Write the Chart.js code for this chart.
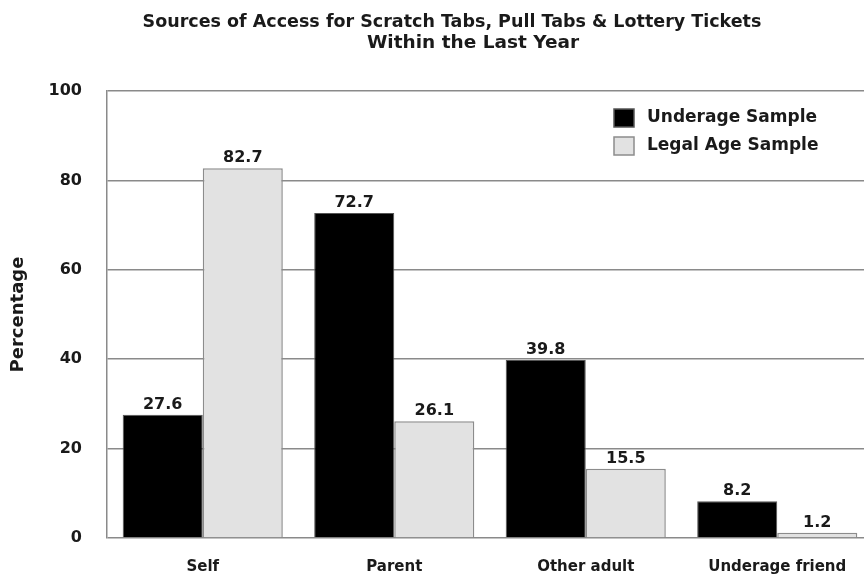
<!DOCTYPE html>
<html>
<head>
<meta charset="utf-8">
<script src="https://cdn.jsdelivr.net/npm/chart.js@4.4.1/dist/chart.umd.min.js"></script>
<style>
  html, body { margin: 0; padding: 0; background: #fff; overflow: hidden; }
  #wrap { width: 880px; height: 577px; }
</style>
</head>
<body>
<div id="wrap"><canvas id="accessChart" width="880" height="577"></canvas></div>
<script>
const titleLines = ['Sources of Access for Scratch Tabs, Pull Tabs & Lottery Tickets', 'Within the Last Year'];
const categories = ['Self', 'Parent', 'Other adult', 'Underage friend'];
const seriesNames = ['Underage Sample', 'Legal Age Sample'];
const underage = [27.6, 72.7, 39.8, 8.2];
const legalAge = [82.7, 26.1, 15.5, 1.2];
const yTicks = [0, 20, 40, 60, 80, 100];

const FONT = "'DejaVu Sans', sans-serif";
const ctx = document.getElementById('accessChart').getContext('2d');

// title, legend and value labels drawn by hand
const extras = {
  id: 'extras',
  afterDraw(chart) {
    const c = chart.ctx;
    const area = chart.chartArea;
    c.save();
    c.fillStyle = '#1a1a1a';
    c.textAlign = 'center';
    c.textBaseline = 'middle';
    c.font = `bold 17.5px ${FONT}`;
    c.fillText(titleLines[0], 452, 22);
    c.font = `bold 18.5px ${FONT}`;
    c.fillText(titleLines[1], 473, 43);

    // value labels
    c.font = `bold 16px ${FONT}`;
    c.textBaseline = 'alphabetic';
    chart.data.datasets.forEach((ds, i) => {
      chart.getDatasetMeta(i).data.forEach((bar, j) => {
        c.fillText(ds.data[j].toFixed(1), bar.x, bar.y - 6);
      });
    });

    // legend
    const lx = area.left + 507;
    const ly = area.top + 27;
    c.font = `bold 17px ${FONT}`;
    c.textAlign = 'left';
    c.textBaseline = 'middle';
    chart.data.datasets.forEach((ds, i) => {
      const y = ly + i * 28;
      c.fillStyle = ds.backgroundColor;
      c.fillRect(lx, y - 9, 20, 18);
      c.strokeStyle = ds.borderColor;
      c.lineWidth = 1.5;
      c.strokeRect(lx, y - 9, 20, 18);
      c.fillStyle = '#1a1a1a';
      c.fillText(ds.label, lx + 33, y);
    });
    c.restore();
  }
};

new Chart(ctx, {
  type: 'bar',
  data: {
    labels: categories,
    datasets: [
      {
        label: seriesNames[0],
        data: underage,
        backgroundColor: '#000000',
        borderColor: '#555555',
        borderWidth: 1
      },
      {
        label: seriesNames[1],
        data: legalAge,
        backgroundColor: '#e2e2e2',
        borderColor: '#8c8c8c',
        borderWidth: 1.5
      }
    ]
  },
  options: {
    responsive: false,
    animation: false,
    devicePixelRatio: 1,
    layout: { padding: { top: 91, right: 7, left: 0, bottom: 0 } },
    datasets: { bar: { categoryPercentage: 0.836, barPercentage: 1 } },
    plugins: {
      legend: { display: false },
      title: { display: false },
      tooltip: { enabled: false }
    },
    scales: {
      x: {
        grid: { display: false },
        border: { display: false },
        ticks: { color: '#1a1a1a', font: { family: FONT, size: 15, weight: 'bold' }, padding: 12, maxRotation: 0 },
        afterFit(scale) { scale.height = 39; }
      },
      y: {
        min: 0,
        max: 100,
        afterBuildTicks(scale) { scale.ticks = yTicks.map(v => ({ value: v })); },
        grid: { color: '#8a8a8a', lineWidth: 1.5, drawTicks: false },
        border: { display: true, color: '#8a8a8a', width: 1.5 },
        ticks: { color: '#1a1a1a', font: { family: FONT, size: 16, weight: 'bold' }, padding: 25 },
        title: {
          display: true,
          text: 'Percentage',
          color: '#1a1a1a',
          font: { family: FONT, size: 18, weight: 'bold' },
          padding: { top: 8, bottom: 0 }
        },
        afterFit(scale) { scale.width = 107; }
      }
    }
  },
  plugins: [extras]
});
</script>
</body>
</html>
